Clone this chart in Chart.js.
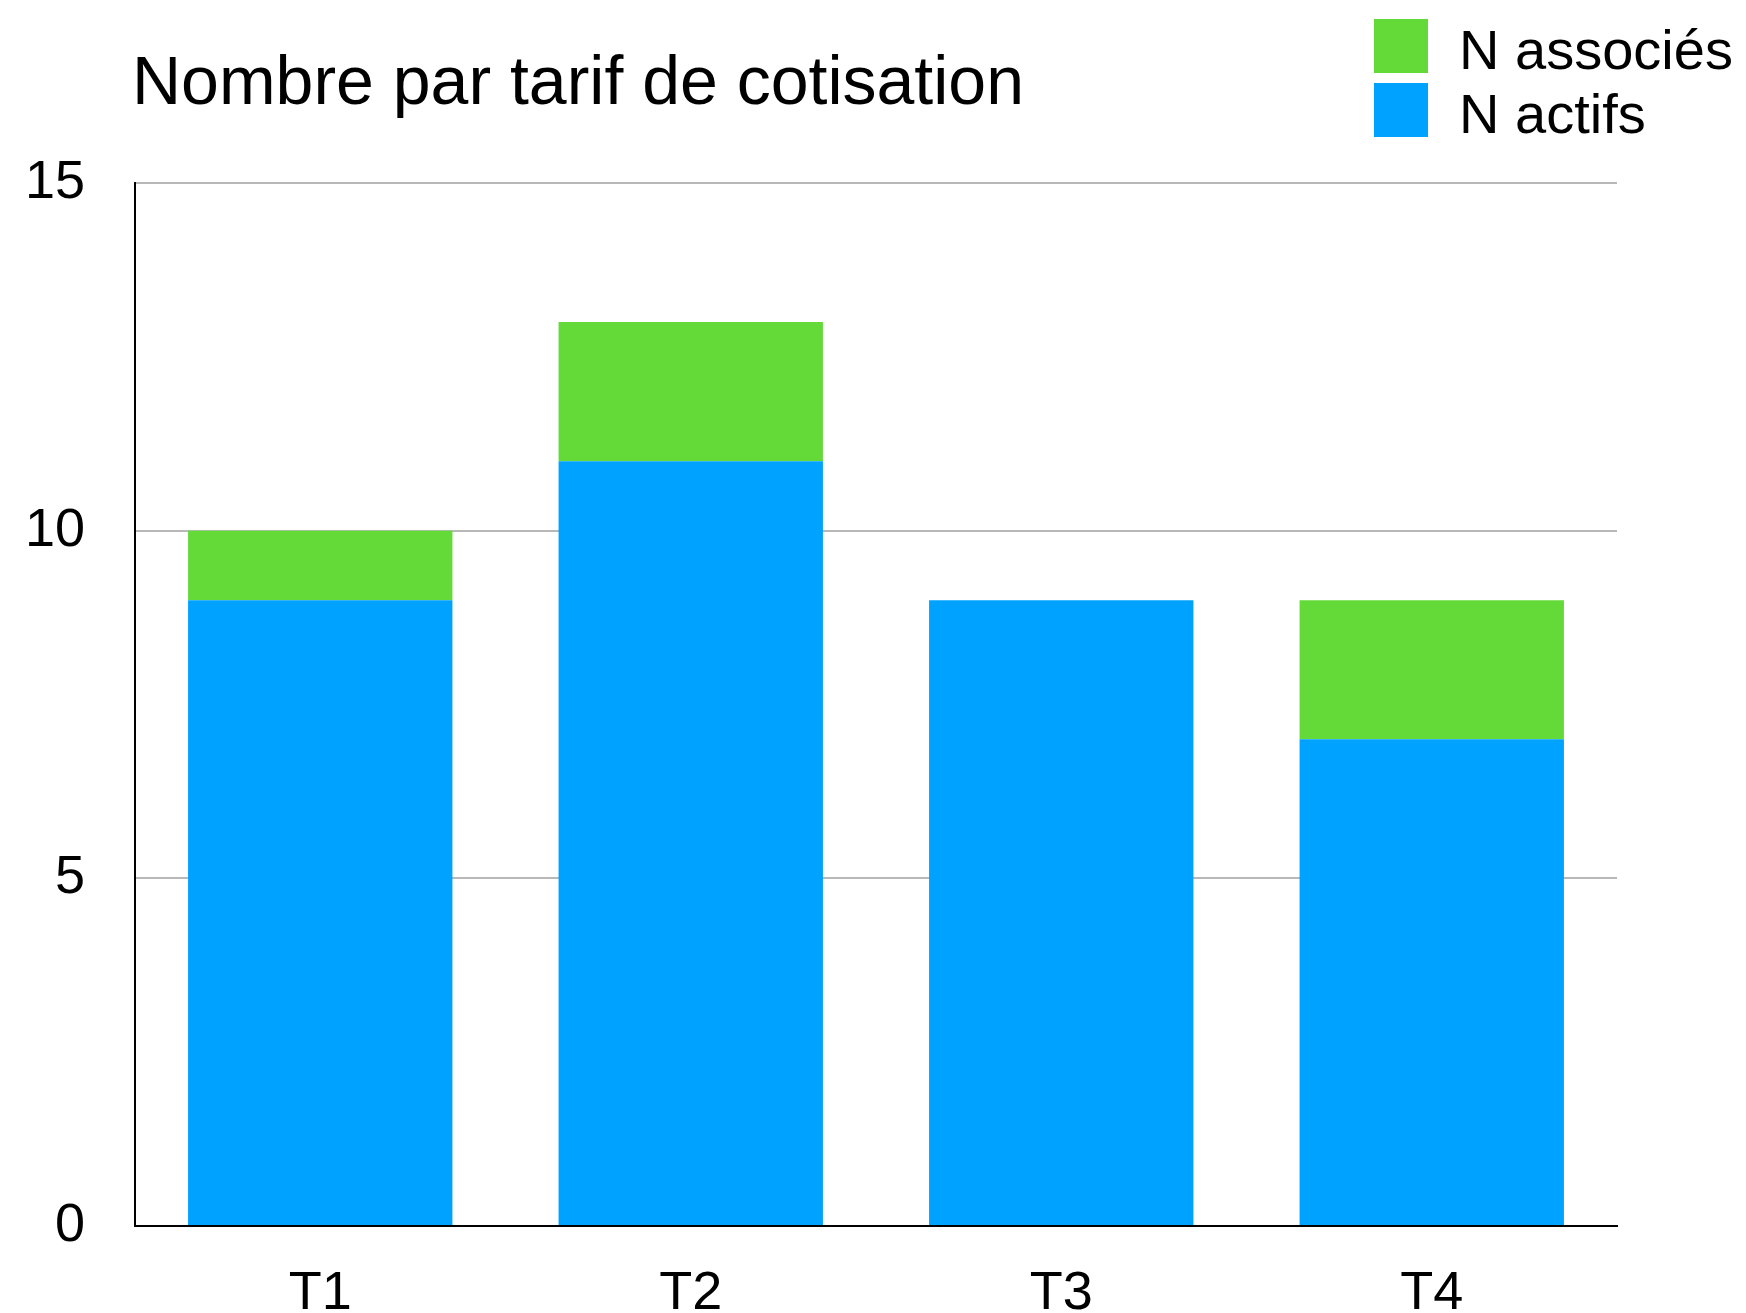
<!DOCTYPE html>
<html>
<head>
<meta charset="utf-8">
<script src="https://cdn.jsdelivr.net/npm/chart.js@4/dist/chart.umd.min.js"></script>
<style>
  html, body { margin: 0; padding: 0; background: #ffffff; }
  #wrap { width: 1746px; height: 1313px; position: relative; }
  canvas { display: block; }
</style>
</head>
<body>
<div id="wrap"><canvas id="c" width="1746" height="1313"></canvas></div>
<script>
const chartTitle = "Nombre par tarif de cotisation";
const categories = ["T1", "T2", "T3", "T4"];
const seriesNames = ["N actifs", "N associés"];
const actifs = [9, 11, 9, 7];
const associes = [1, 2, 0, 2];
const seriesColors = ["#00A2FF", "#63DA38"];
const yTicks = [0, 5, 10, 15];

const FONT = "'Liberation Sans', Arial, Helvetica, sans-serif";

const overlayPlugin = {
  id: 'overlay',
  afterDraw(chart) {
    const ctx = chart.ctx;
    ctx.save();
    // title
    ctx.fillStyle = '#000';
    ctx.font = '68px ' + FONT;
    ctx.textAlign = 'left';
    ctx.textBaseline = 'alphabetic';
    ctx.fillText(chartTitle, 132, 104);
    // legend (reverse order: top series first)
    const ds = chart.data.datasets.slice().reverse();
    ctx.font = '56px ' + FONT;
    ds.forEach((d, i) => {
      const top = 19 + i * 64;
      ctx.fillStyle = d.backgroundColor;
      ctx.fillRect(1374, top, 54, 54);
      ctx.fillStyle = '#000';
      ctx.fillText(d.label, 1459, top + 50);
    });
    ctx.restore();
  }
};

new Chart(document.getElementById('c'), {
  type: 'bar',
  data: {
    labels: categories,
    datasets: [
      { label: seriesNames[0], data: actifs, backgroundColor: seriesColors[0], borderWidth: 0 },
      { label: seriesNames[1], data: associes, backgroundColor: seriesColors[1], borderWidth: 0 }
    ]
  },
  options: {
    responsive: false,
    animation: false,
    devicePixelRatio: 1,
    layout: { padding: { top: 183, right: 129, bottom: 0, left: 0 } },
    plugins: { legend: { display: false }, title: { display: false }, tooltip: { enabled: false } },
    datasets: { bar: { categoryPercentage: 1.0, barPercentage: 0.7135 } },
    scales: {
      x: {
        stacked: true,
        grid: { display: false, drawTicks: false },
        border: { display: true, color: '#000', width: 2 },
        ticks: { color: '#000', font: { family: FONT, size: 54 }, padding: 36 },
        afterFit(scale) { scale.height = 87; }
      },
      y: {
        stacked: true,
        min: 0, max: 15,
        afterBuildTicks(scale) { scale.ticks = yTicks.map(v => ({ value: v })); },
        grid: { color: '#B8B8B8', lineWidth: 2, drawTicks: false },
        border: { display: true, color: '#000', width: 2 },
        ticks: { color: '#000', font: { family: FONT, size: 54 }, padding: 50 },
        afterFit(scale) { scale.width = 135; }
      }
    }
  },
  plugins: [overlayPlugin]
});
</script>
</body>
</html>
